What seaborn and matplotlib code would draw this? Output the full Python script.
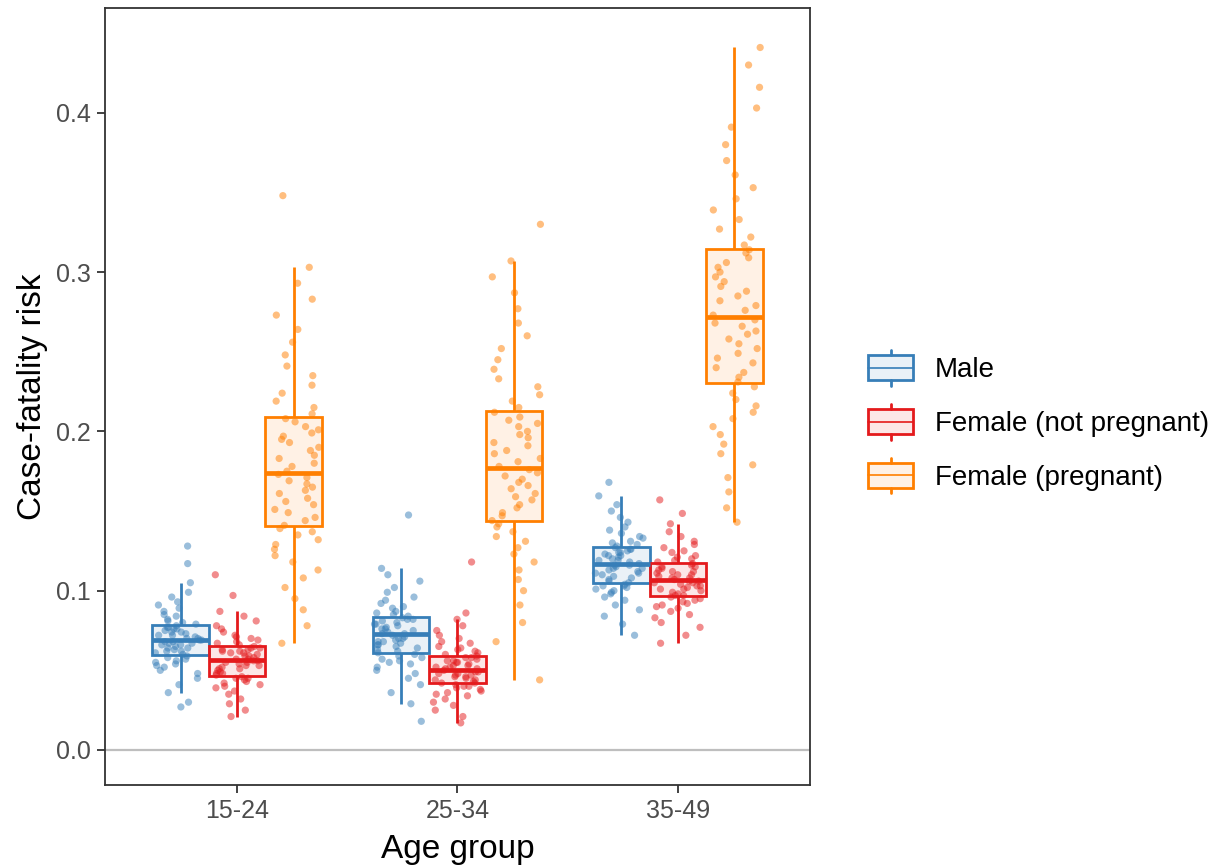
import numpy as np
import pandas as pd
import matplotlib
matplotlib.use("Agg")
import matplotlib.pyplot as plt
import seaborn as sns
from matplotlib.legend_handler import HandlerBase
from matplotlib.patches import Rectangle, Patch
from matplotlib.lines import Line2D

# ---------------- data ----------------
age_groups = ["15-24", "25-34", "35-49"]
sex_groups = ["Male", "Female (not pregnant)", "Female (pregnant)"]
colors = ["#377EB8", "#E41A1C", "#FF7F00"]

male_15_24 = [0.027, 0.030, 0.036, 0.041, 0.045, 0.048, 0.050, 0.052, 0.053, 0.054, 0.055, 0.056, 0.057, 0.058, 0.059,
              0.060, 0.061, 0.062, 0.062, 0.063, 0.064, 0.064, 0.065, 0.066, 0.066, 0.067, 0.067, 0.068, 0.068, 0.069,
              0.069, 0.070, 0.070, 0.071, 0.072, 0.072, 0.073, 0.074, 0.074, 0.075, 0.076, 0.076, 0.077, 0.077, 0.078,
              0.079, 0.080, 0.081, 0.082, 0.084, 0.085, 0.087, 0.089, 0.091, 0.093, 0.096, 0.099, 0.105, 0.117, 0.128]
fnp_15_24 = [0.021, 0.025, 0.029, 0.032, 0.035, 0.037, 0.039, 0.040, 0.041, 0.042, 0.043, 0.044, 0.045, 0.045, 0.046,
             0.047, 0.048, 0.048, 0.049, 0.050, 0.051, 0.051, 0.052, 0.053, 0.053, 0.054, 0.055, 0.055, 0.056, 0.056,
             0.057, 0.057, 0.058, 0.059, 0.059, 0.060, 0.061, 0.061, 0.062, 0.062, 0.063, 0.063, 0.064, 0.064, 0.065,
             0.066, 0.067, 0.068, 0.069, 0.070, 0.071, 0.072, 0.074, 0.076, 0.078, 0.081, 0.084, 0.087, 0.097, 0.110]
fp_15_24 = [0.067, 0.078, 0.088, 0.095, 0.102, 0.108, 0.113, 0.118, 0.122, 0.126, 0.129, 0.132, 0.135, 0.137, 0.139,
            0.141, 0.144, 0.146, 0.149, 0.151, 0.154, 0.156, 0.158, 0.161, 0.163, 0.165, 0.167, 0.169, 0.171, 0.173,
            0.175, 0.178, 0.180, 0.183, 0.185, 0.188, 0.190, 0.193, 0.195, 0.197, 0.199, 0.201, 0.203, 0.206, 0.208,
            0.211, 0.215, 0.219, 0.224, 0.229, 0.235, 0.241, 0.248, 0.256, 0.264, 0.273, 0.283, 0.293, 0.303, 0.348]

male_25_34 = [0.018, 0.029, 0.036, 0.041, 0.045, 0.048, 0.050, 0.052, 0.054, 0.055, 0.056, 0.057, 0.058, 0.059, 0.060,
              0.061, 0.062, 0.063, 0.064, 0.065, 0.066, 0.066, 0.067, 0.068, 0.068, 0.069, 0.070, 0.070, 0.071, 0.072,
              0.073, 0.073, 0.074, 0.075, 0.076, 0.076, 0.077, 0.078, 0.079, 0.079, 0.080, 0.081, 0.082, 0.082, 0.083,
              0.084, 0.085, 0.086, 0.087, 0.089, 0.090, 0.092, 0.094, 0.096, 0.099, 0.102, 0.106, 0.110, 0.114, 0.1475]
fnp_25_34 = [0.017, 0.021, 0.025, 0.028, 0.030, 0.032, 0.034, 0.035, 0.036, 0.037, 0.038, 0.039, 0.040, 0.040, 0.041,
             0.042, 0.042, 0.043, 0.044, 0.044, 0.045, 0.046, 0.046, 0.047, 0.047, 0.048, 0.048, 0.049, 0.049, 0.050,
             0.051, 0.051, 0.052, 0.052, 0.053, 0.053, 0.054, 0.055, 0.055, 0.056, 0.056, 0.057, 0.058, 0.058, 0.059,
             0.060, 0.061, 0.062, 0.063, 0.064, 0.065, 0.067, 0.068, 0.070, 0.072, 0.075, 0.078, 0.082, 0.086, 0.118]
fp_25_34 = [0.044, 0.068, 0.080, 0.091, 0.100, 0.107, 0.113, 0.118, 0.123, 0.127, 0.131, 0.134, 0.137, 0.140, 0.142,
            0.144, 0.147, 0.149, 0.152, 0.154, 0.157, 0.159, 0.161, 0.164, 0.166, 0.168, 0.170, 0.172, 0.174, 0.176,
            0.178, 0.181, 0.183, 0.186, 0.188, 0.191, 0.193, 0.196, 0.198, 0.200, 0.203, 0.205, 0.207, 0.209, 0.212,
            0.215, 0.219, 0.223, 0.228, 0.233, 0.239, 0.245, 0.252, 0.260, 0.268, 0.277, 0.287, 0.297, 0.307, 0.330]

male_35_49 = [0.072, 0.079, 0.084, 0.088, 0.091, 0.094, 0.096, 0.098, 0.099, 0.100, 0.101, 0.102, 0.103, 0.103, 0.104,
              0.105, 0.106, 0.107, 0.108, 0.109, 0.110, 0.111, 0.111, 0.112, 0.113, 0.114, 0.114, 0.115, 0.116, 0.116,
              0.117, 0.118, 0.119, 0.119, 0.120, 0.121, 0.122, 0.122, 0.123, 0.124, 0.124, 0.125, 0.126, 0.126, 0.127,
              0.128, 0.129, 0.130, 0.131, 0.133, 0.134, 0.136, 0.138, 0.140, 0.143, 0.146, 0.150, 0.154, 0.1595, 0.168]
fnp_35_49 = [0.067, 0.072, 0.077, 0.080, 0.083, 0.085, 0.087, 0.089, 0.090, 0.091, 0.092, 0.093, 0.094, 0.095, 0.096,
             0.097, 0.097, 0.098, 0.099, 0.100, 0.101, 0.101, 0.102, 0.103, 0.103, 0.104, 0.105, 0.105, 0.106, 0.106,
             0.107, 0.108, 0.108, 0.109, 0.110, 0.110, 0.111, 0.112, 0.112, 0.113, 0.114, 0.115, 0.115, 0.116, 0.117,
             0.118, 0.119, 0.120, 0.121, 0.122, 0.124, 0.125, 0.127, 0.129, 0.131, 0.134, 0.137, 0.142, 0.1485, 0.157]
fp_35_49 = [0.143, 0.152, 0.162, 0.171, 0.179, 0.186, 0.192, 0.198, 0.203, 0.208, 0.212, 0.216, 0.220, 0.224, 0.228,
            0.231, 0.234, 0.237, 0.240, 0.243, 0.246, 0.249, 0.252, 0.255, 0.258, 0.261, 0.263, 0.266, 0.268, 0.270,
            0.273, 0.276, 0.279, 0.282, 0.285, 0.288, 0.291, 0.294, 0.297, 0.300, 0.303, 0.306, 0.309, 0.312, 0.314,
            0.317, 0.322, 0.327, 0.333, 0.339, 0.346, 0.353, 0.361, 0.370, 0.380, 0.391, 0.403, 0.416, 0.430, 0.441]

series = {
    ("15-24", "Male"): male_15_24,
    ("15-24", "Female (not pregnant)"): fnp_15_24,
    ("15-24", "Female (pregnant)"): fp_15_24,
    ("25-34", "Male"): male_25_34,
    ("25-34", "Female (not pregnant)"): fnp_25_34,
    ("25-34", "Female (pregnant)"): fp_25_34,
    ("35-49", "Male"): male_35_49,
    ("35-49", "Female (not pregnant)"): fnp_35_49,
    ("35-49", "Female (pregnant)"): fp_35_49,
}
rows = []
for (age, grp), vals in series.items():
    for v in vals:
        rows.append((age, grp, v))
df = pd.DataFrame(rows, columns=["age", "group", "cfr"])

# ---------------- style ----------------
sns.set_theme(style="ticks")
plt.rcParams["font.family"] = ["Liberation Sans", "DejaVu Sans"]

fig = plt.figure(figsize=(12.18, 8.68), dpi=100)
ax = fig.add_axes([0.0862, 0.0956, 0.5788, 0.8952])

np.random.seed(3)
sns.stripplot(data=df, x="age", y="cfr", hue="group", order=age_groups, hue_order=sex_groups,
              palette=colors, dodge=True, jitter=0.33, size=5.2, alpha=0.5, linewidth=0,
              legend=False, ax=ax, zorder=1)

sns.boxplot(data=df, x="age", y="cfr", hue="group", order=age_groups, hue_order=sex_groups,
            palette=colors, fill=True, width=0.77, gap=0, dodge=True,
            showfliers=False, showcaps=False, whis=1.5, linewidth=2.0,
            medianprops=dict(linewidth=3.4), legend=False, ax=ax)

# recolour: box outline / whiskers / median in the group colour, pale translucent fill
offset = 0.77 / 3
def level_of(xcenter):
    rel = xcenter - np.round(xcenter)
    return int(np.clip(np.round(rel / offset), -1, 1)) + 1

for p in ax.patches:
    verts = p.get_path().vertices
    xs = p.get_transform().transform(verts)
    xd = ax.transData.inverted().transform(xs)[:, 0]
    k = level_of(0.5 * (xd.min() + xd.max()))
    c = matplotlib.colors.to_rgb(colors[k])
    p.set_facecolor((c[0], c[1], c[2], 0.10))
    p.set_edgecolor(c)
    p.set_zorder(2)

for ln in ax.lines:
    xd = np.asarray(ln.get_xdata(), dtype=float)
    if xd.size == 0:
        continue
    k = level_of(0.5 * (xd.min() + xd.max()))
    ln.set_color(colors[k])
    ln.set_zorder(2.5)

ax.axhline(0, color="#BEBEBE", lw=1.6, zorder=0.5)

ax.set_xlim(-0.6, 2.6)
ax.set_ylim(-0.022, 0.4658)
ax.set_yticks([0.0, 0.1, 0.2, 0.3, 0.4])
ax.set_yticklabels(["0.0", "0.1", "0.2", "0.3", "0.4"])

for s in ax.spines.values():
    s.set_visible(True)
    s.set_color("#333333")
    s.set_linewidth(1.3)

ax.tick_params(axis="both", colors="#333333", length=6, width=1.3, labelsize=18,
               labelcolor="#4D4D4D", pad=4)

ax.set_xlabel("Age group", fontsize=24, color="black", labelpad=8)
ax.set_ylabel("Case-fatality risk", fontsize=24, color="black", labelpad=6)


# ---------------- legend with boxplot keys ----------------
class BoxHandler(HandlerBase):
    def create_artists(self, legend, orig_handle, xdescent, ydescent, width, height, fontsize, trans):
        c = orig_handle.get_edgecolor()
        x0 = -xdescent
        yb = -ydescent - height * 0.17
        h = height * 1.34
        bh = h * 0.70
        y0 = yb + (h - bh) / 2
        rect = Rectangle((x0, y0), width, bh, facecolor=(c[0], c[1], c[2], 0.10),
                         edgecolor=c, lw=2.0, transform=trans)
        med = Line2D([x0, x0 + width], [y0 + bh / 2] * 2, color=c, lw=1.2, transform=trans)
        wt = Line2D([x0 + width / 2] * 2, [y0 + bh, yb + h], color=c, lw=2.0, transform=trans)
        wb = Line2D([x0 + width / 2] * 2, [yb, y0], color=c, lw=2.0, transform=trans)
        return [rect, med, wt, wb]


handles = [Patch(edgecolor=c, facecolor="none") for c in colors]
leg = fig.legend(handles, sex_groups, handler_map={Patch: BoxHandler()},
                 loc="center left", bbox_to_anchor=(0.713, 0.513), frameon=False, fontsize=20,
                 handlelength=1.6, handleheight=1.1, handletextpad=0.8, labelspacing=0.9,
                 borderpad=0, borderaxespad=0)
for t in leg.get_texts():
    t.set_color("black")

fig.savefig("out.png", dpi=100)
